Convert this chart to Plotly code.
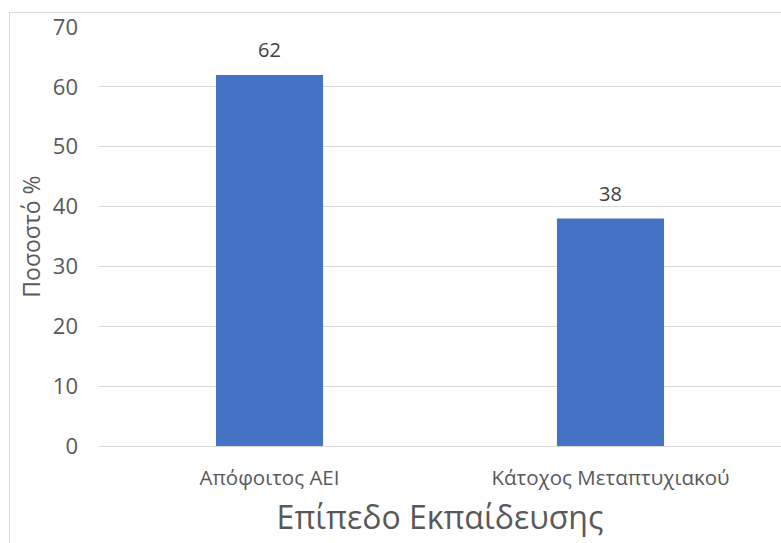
import plotly.graph_objects as go

# Education level distribution (percent)
categories = ["Απόφοιτος ΑΕΙ", "Κάτοχος Μεταπτυχιακού"]
values = [62, 38]
y_ticks = [0, 10, 20, 30, 40, 50, 60, 70]

W, H = 781, 543
ml, mr, mt, mb = 99, 0, 27, 97
pw = W - ml - mr
ph = H - mt - mb

fig = go.Figure(
    go.Bar(
        x=categories,
        y=values,
        marker=dict(color="#4472C4", line=dict(width=0)),
        hoverinfo="x+y",
    )
)

# value labels above each bar
for c, v in zip(categories, values):
    fig.add_annotation(
        x=c, y=v, text=str(v),
        showarrow=False, yanchor="bottom", yshift=10,
        font=dict(family="Open Sans", size=20, color="#404040"),
    )

# light frame around the chart area
fig.add_shape(
    type="rect",
    xref="paper", yref="paper",
    x0=(9.5 - ml) / pw, x1=(W + 5 - ml) / pw,
    y0=-(H + 5 - mt - ph) / ph, y1=(mt - 12.5) / ph + 1,
    line=dict(color="#D9D9D9", width=1),
    layer="below",
)

fig.update_layout(
    width=W, height=H,
    margin=dict(l=ml, r=mr, t=mt, b=mb),
    paper_bgcolor="white",
    plot_bgcolor="white",
    bargap=0.686,
    showlegend=False,
    font=dict(family="Open Sans", color="#595959"),
    xaxis=dict(
        type="category",
        range=[-0.5, 1.5],
        showgrid=False,
        showline=False,
        ticks="",
        ticklabelstandoff=17,
        tickfont=dict(size=20.5, color="#595959"),
        title=dict(text="Επίπεδο Εκπαίδευσης", font=dict(size=32, color="#595959"), standoff=17),
    ),
    yaxis=dict(
        range=[0, 70],
        tickvals=y_ticks,
        showgrid=True,
        gridcolor="#D9D9D9",
        gridwidth=1,
        zeroline=True,
        zerolinecolor="#D9D9D9",
        zerolinewidth=1,
        showline=False,
        ticks="",
        ticklabelstandoff=20,
        tickfont=dict(size=22, color="#595959"),
        title=dict(text="Ποσοστό %", font=dict(size=23, color="#595959"), standoff=5),
    ),
)

fig.write_html("out.html")
